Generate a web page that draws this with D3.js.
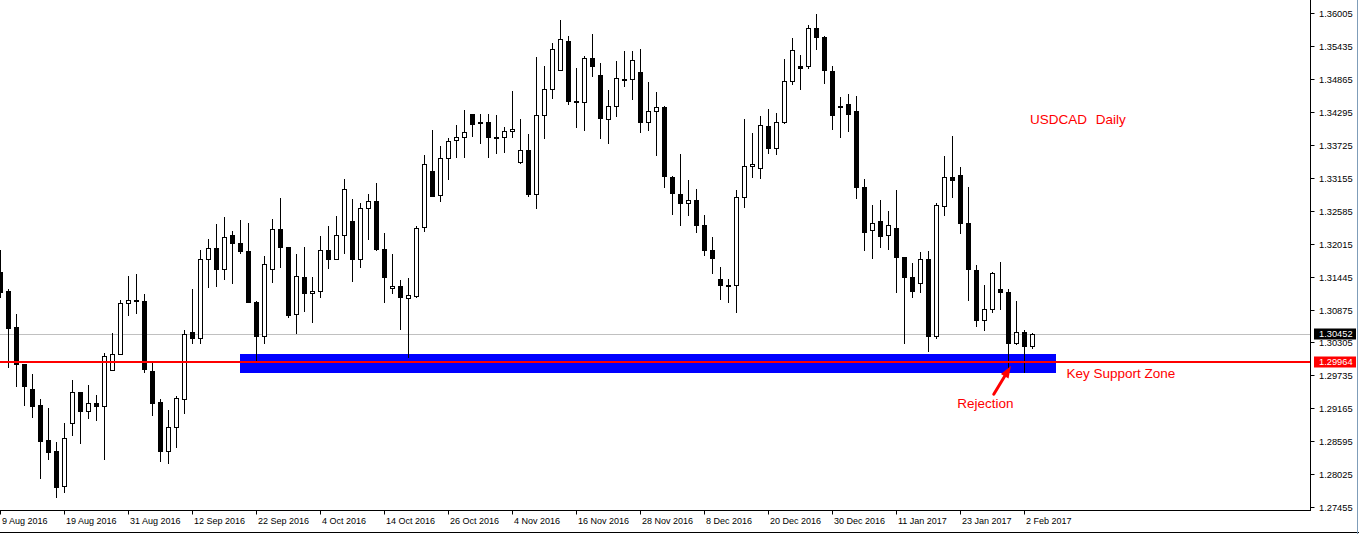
<!DOCTYPE html>
<html><head><meta charset="utf-8">
<script src="https://cdn.jsdelivr.net/npm/d3@7/dist/d3.min.js"></script>
<style>html,body{margin:0;padding:0;background:#fff;overflow:hidden}</style>
</head><body>
<svg id="c" width="1359" height="534"></svg>
<script>
// ---- data (USDCAD daily) ----
const openP = [1.31519,1.31196,1.30567,1.29931,1.29498,1.29221,1.28615,1.28425,1.27806,1.28904,
1.29441,1.29105,1.29251,1.29199,1.29822,1.30099,1.30982,1.31034,1.31017,1.29810,
1.29268,1.28413,1.28828,1.29337,1.30480,1.30369,1.31744,1.31935,1.31571,1.32160,
1.32022,1.31888,1.31000,1.30411,1.31571,1.32264,1.31952,1.30792,1.31433,1.31156,
1.31190,1.31900,1.31744,1.32160,1.32403,1.31744,1.32628,1.32749,1.31918,1.31239,
1.31277,1.31066,1.31112,1.32292,1.33274,1.32846,1.33494,1.33805,1.33857,1.34261,
1.34117,1.34117,1.33857,1.33857,1.33958,1.33417,1.33632,1.32867,1.34238,1.34689,
1.35018,1.35520,1.34481,1.34463,1.35225,1.34931,1.34169,1.34394,1.34872,1.34862,
1.34983,1.34110,1.34308,1.34377,1.33178,1.32870,1.32714,1.32766,1.32333,1.31906,
1.31398,1.31305,1.31287,1.32818,1.33355,1.33320,1.34048,1.33660,1.34114,1.34827,
1.35092,1.35080,1.35745,1.35589,1.35014,1.34391,1.34429,1.34313,1.32993,1.32240,
1.32408,1.32153,1.32287,1.31781,1.31433,1.31329,1.31744,1.30404,1.32680,1.33165,
1.33199,1.32368,1.31556,1.30688,1.30872,1.31225,1.31173,1.30290,1.30485,1.30243];
const highP = [1.31906,1.31225,1.30797,1.29931,1.29758,1.29325,1.29169,1.28580,1.28910,1.29654,
1.29441,1.29568,1.29394,1.30117,1.30468,1.31040,1.31455,1.31490,1.31144,1.29949,
1.29325,1.29135,1.29377,1.30520,1.31230,1.31906,1.32096,1.32356,1.32482,1.32240,
1.32425,1.32378,1.31022,1.31802,1.32437,1.32801,1.31952,1.31831,1.31952,1.31433,
1.32148,1.32321,1.32494,1.33135,1.32789,1.32725,1.32875,1.33061,1.32195,1.31836,
1.31386,1.31421,1.32321,1.33551,1.33984,1.33707,1.33840,1.34070,1.34330,1.34261,
1.34261,1.34261,1.34243,1.34030,1.34659,1.34174,1.33914,1.35248,1.35092,1.35490,
1.35889,1.35606,1.35052,1.35265,1.35646,1.35139,1.34676,1.35179,1.35352,1.35352,
1.35386,1.34815,1.34642,1.34399,1.33182,1.33568,1.33113,1.32962,1.32512,1.32131,
1.31611,1.31403,1.32939,1.34174,1.33932,1.34226,1.34347,1.34278,1.35208,1.35572,
1.35277,1.35802,1.35993,1.35612,1.35092,1.34550,1.34602,1.34567,1.33130,1.32680,
1.32766,1.32581,1.32941,1.31784,1.31675,1.31876,1.31888,1.32714,1.33533,1.33880,
1.33338,1.32997,1.31641,1.31299,1.31519,1.31693,1.31230,1.31022,1.30520,1.30463];
const lowP = [1.31086,1.29885,1.29555,1.29226,1.29008,1.27962,1.28291,1.27623,1.27720,1.28702,
1.28568,1.29001,1.28961,1.28286,1.29822,1.30099,1.30785,1.30820,1.29798,1.29053,
1.28257,1.28212,1.28499,1.29088,1.30300,1.30290,1.31270,1.31287,1.31409,1.31339,
1.31848,1.31000,1.29988,1.30290,1.31357,1.31616,1.30750,1.30473,1.30854,1.30664,
1.31097,1.31599,1.31744,1.31859,1.31374,1.31616,1.32091,1.31911,1.31010,1.31166,
1.30532,1.30047,1.31086,1.32240,1.32846,1.32759,1.33140,1.33521,1.33521,1.33885,
1.33753,1.33521,1.33591,1.33608,1.33857,1.33417,1.32846,1.32638,1.33850,1.34543,
1.35018,1.34439,1.34041,1.33989,1.34924,1.33850,1.33764,1.34231,1.34751,1.34526,
1.33954,1.33989,1.33556,1.33002,1.32534,1.32344,1.32517,1.32222,1.31824,1.31512,
1.31062,1.31010,1.30832,1.32655,1.33175,1.33158,1.33591,1.33573,1.34100,1.34786,
1.34699,1.35052,1.35392,1.34803,1.34006,1.33857,1.33972,1.32811,1.31914,1.31762,
1.31963,1.31918,1.31183,1.30290,1.31097,1.31183,1.30162,1.30376,1.32512,1.32829,
1.32205,1.31045,1.30595,1.30525,1.30827,1.30879,1.29857,1.30272,1.29788,1.30203];
const closeP = [1.31173,1.30560,1.29926,1.29555,1.29209,1.28603,1.28413,1.27806,1.28645,1.29441,
1.29105,1.29251,1.29192,1.30065,1.30099,1.30982,1.31034,1.31010,1.29833,1.29261,
1.28413,1.28835,1.29337,1.30456,1.30369,1.31744,1.31935,1.31571,1.32125,1.32022,
1.31883,1.31000,1.30404,1.31658,1.32264,1.31945,1.30780,1.31450,1.31156,1.31190,
1.31900,1.31744,1.32160,1.32957,1.31744,1.32628,1.32749,1.31911,1.31426,1.31279,
1.31079,1.31121,1.32283,1.33390,1.32846,1.33494,1.33793,1.33857,1.33944,1.34082,
1.34110,1.33850,1.33854,1.33961,1.33996,1.33632,1.32862,1.34238,1.34689,1.35381,
1.35554,1.34474,1.34469,1.35225,1.35087,1.34186,1.34394,1.34879,1.34867,1.35191,
1.34110,1.34308,1.34377,1.33175,1.32898,1.32714,1.32766,1.32326,1.31893,1.31762,
1.31287,1.31299,1.32818,1.33355,1.33390,1.34065,1.33660,1.34117,1.34827,1.35364,
1.35063,1.35745,1.35589,1.35011,1.34249,1.34385,1.34249,1.33002,1.32222,1.32368,
1.32153,1.32333,1.31779,1.31426,1.31183,1.31744,1.30404,1.32680,1.33178,1.33106,
1.32364,1.31568,1.30685,1.30879,1.31502,1.31173,1.30283,1.30485,1.30243,1.30452];

const dateTickBars = [0,8,16,24,32,40,48,56,64,72,80,88,96,104,112,120,128];
const dateTickLabels = ["9 Aug 2016","19 Aug 2016","31 Aug 2016","12 Sep 2016","22 Sep 2016",
  "4 Oct 2016","14 Oct 2016","26 Oct 2016","4 Nov 2016","16 Nov 2016","28 Nov 2016",
  "8 Dec 2016","20 Dec 2016","30 Dec 2016","11 Jan 2017","23 Jan 2017","2 Feb 2017"];
const priceTicks = [1.36005,1.35435,1.34865,1.34295,1.33725,1.33155,1.32585,1.32015,
  1.31445,1.30875,1.30305,1.29735,1.29165,1.28595,1.28025,1.27455];
const bidPrice = 1.30452;
const supportPrice = 1.29964;
const zoneTop = 1.30105, zoneBottom = 1.29784;
const zoneBars = [30, 132];
const arrowFrom = {bar: 124.16, price: 1.29407};
const arrowTo = {bar: 126.3, price: 1.29897};

// ---- drawing ----
const svg = d3.select('#c');
const plotRight = 1310.5, plotBottom = 510.5;
const x = d3.scaleLinear().domain([0, 129]).range([0.5, 1032.5]);
const y = d3.scaleLinear().domain([1.27455, 1.36005]).range([507, 13.3]);
const crisp = v => Math.round(v) + 0.5;
const axisFont = "Tahoma, 'Liberation Sans', Arial, sans-serif";
const noteFont = "'Liberation Sans', Arial, sans-serif";

svg.append('rect').attr('width',1359).attr('height',534).attr('fill','#fff');

const plot = svg.append('g');
plot.append('clipPath').attr('id','clip').append('rect')
  .attr('x',0).attr('y',0).attr('width',plotRight).attr('height',plotBottom);
const pg = plot.append('g').attr('clip-path','url(#clip)');

// support zone
pg.append('rect')
  .attr('x', x(zoneBars[0]) - 0.5)
  .attr('y', Math.round(y(zoneTop)))
  .attr('width', x(zoneBars[1]) - x(zoneBars[0]))
  .attr('height', Math.round(y(zoneBottom)) - Math.round(y(zoneTop)))
  .attr('fill', '#0000ff');

// bid line
pg.append('line')
  .attr('x1',0).attr('x2',plotRight)
  .attr('y1',crisp(y(bidPrice))).attr('y2',crisp(y(bidPrice)))
  .attr('stroke','#c0c0c0').attr('stroke-width',1);

// candles
const bars = d3.range(openP.length).map(i => ({i, o:openP[i], h:highP[i], l:lowP[i], c:closeP[i]}));
const cg = pg.append('g');
cg.selectAll('line.wick').data(bars).join('line').attr('class','wick')
  .attr('x1', d => x(d.i)).attr('x2', d => x(d.i))
  .attr('y1', d => Math.round(y(d.h))).attr('y2', d => Math.round(y(d.l)) + 1)
  .attr('stroke','#000').attr('stroke-width',1);
cg.selectAll('rect.body').data(bars).join('rect').attr('class','body')
  .attr('x', d => x(d.i) - 2)
  .attr('y', d => Math.round(Math.min(y(d.o), y(d.c))) + 0.5)
  .attr('width', 4)
  .attr('height', d => Math.max(1, Math.round(Math.abs(y(d.o) - y(d.c)))))
  .attr('fill', d => d.c >= d.o ? '#fff' : '#000')
  .attr('stroke','#000').attr('stroke-width',1);

// support line
pg.append('line')
  .attr('x1',0).attr('x2',plotRight)
  .attr('y1',Math.round(y(supportPrice))).attr('y2',Math.round(y(supportPrice)))
  .attr('stroke','#ff0000').attr('stroke-width',2);

// axes frame
svg.append('line').attr('x1',plotRight).attr('x2',plotRight).attr('y1',0).attr('y2',plotBottom+0.5)
  .attr('stroke','#000');
svg.append('line').attr('x1',0).attr('x2',plotRight+0.5).attr('y1',plotBottom).attr('y2',plotBottom)
  .attr('stroke','#000');

// price axis
const pa = svg.append('g');
priceTicks.forEach(p => {
  const yy = crisp(y(p));
  pa.append('line').attr('x1',plotRight).attr('x2',plotRight+4).attr('y1',yy).attr('y2',yy).attr('stroke','#000');
  pa.append('text').attr('x',plotRight+8.5).attr('y',yy).attr('dy','0.35em')
    .attr('font-family',axisFont).attr('font-size',9.3).attr('fill','#000').text(p.toFixed(5));
});
[[bidPrice,'#000000'],[supportPrice,'#ff0000']].forEach(([p,col]) => {
  const yy = Math.round(y(p));
  pa.append('rect').attr('x',plotRight+3.5).attr('y',yy-5.5).attr('width',42).attr('height',11).attr('fill',col);
  pa.append('text').attr('x',plotRight+8.5).attr('y',yy).attr('dy','0.35em')
    .attr('font-family',axisFont).attr('font-size',9.3).attr('fill','#fff').text(p.toFixed(5));
});

// date axis
const da = svg.append('g');
dateTickBars.forEach((b,k) => {
  const xx = x(b);
  da.append('line').attr('x1',xx).attr('x2',xx).attr('y1',plotBottom).attr('y2',plotBottom+4).attr('stroke','#000');
  da.append('text').attr('x',xx+1.5).attr('y',plotBottom+13)
    .attr('font-family',axisFont).attr('font-size',9).attr('fill','#000').text(dateTickLabels[k]);
});

// window frame
svg.append('line').attr('x1',0).attr('x2',1359).attr('y1',532.5).attr('y2',532.5).attr('stroke','#000');
svg.append('line').attr('x1',1357.5).attr('x2',1357.5).attr('y1',0).attr('y2',534).attr('stroke','#7f9db9');

// annotations
const ann = svg.append('g').attr('fill','#ff0000').attr('font-family',noteFont).attr('font-size',13.5);
ann.append('text').attr('x',x(128.7)).attr('y',y(1.34088)).text('USDCAD');
ann.append('text').attr('x',x(136.9)).attr('y',y(1.34088)).text('Daily');
ann.append('text').attr('x',x(133.25)).attr('y',y(1.29694)).text('Key Support Zone');
ann.append('text').attr('x',x(119.6)).attr('y',y(1.29172)).text('Rejection');

// arrow
const ax0 = x(arrowFrom.bar), ay0 = y(arrowFrom.price);
const ax1 = x(arrowTo.bar), ay1 = y(arrowTo.price);
const len = Math.hypot(ax1-ax0, ay1-ay0), ux = (ax1-ax0)/len, uy = (ay1-ay0)/len;
const headL = 12, headW = 4.5;
const bx = ax1 - ux*headL, by = ay1 - uy*headL;
svg.append('line').attr('x1',ax0).attr('y1',ay0).attr('x2',bx+ux*2).attr('y2',by+uy*2)
  .attr('stroke','#ff0000').attr('stroke-width',3).attr('stroke-linecap','round');
svg.append('polygon')
  .attr('points', [[ax1,ay1],[bx - uy*headW, by + ux*headW],[bx + uy*headW, by - ux*headW]].map(p=>p.join(',')).join(' '))
  .attr('fill','#ff0000');
</script>
</body></html>
